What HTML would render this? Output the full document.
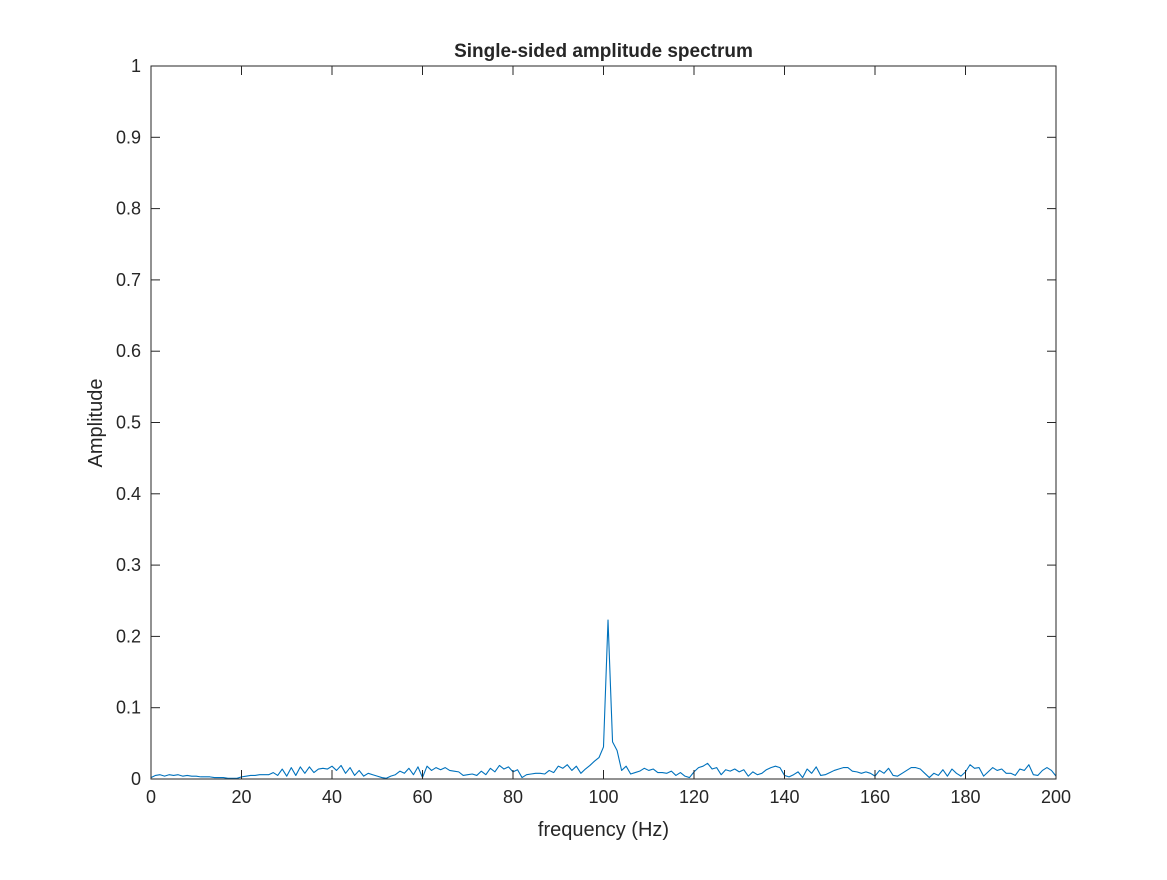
<!DOCTYPE html>
<html><head><meta charset="utf-8"><style>
body{margin:0;background:#fff;}
svg text{font-family:"Liberation Sans",Arial,sans-serif;fill:#262626;}
</style></head><body>
<svg id="chart" width="1167" height="875" viewBox="0 0 1167 875" xmlns="http://www.w3.org/2000/svg">
<rect x="0" y="0" width="1167" height="875" fill="#fff"/>
<g id="axes"></g>
</svg>
<script>
const yValues = [
0.002,0.005,0.006,0.004,0.006,0.005,0.006,0.004,0.005,0.004,
0.004,0.003,0.003,0.003,0.002,0.002,0.002,0.001,0.001,0.001,
0.003,0.004,0.005,0.005,0.006,0.006,0.006,0.009,0.005,0.014,
0.004,0.016,0.005,0.017,0.008,0.017,0.009,0.014,0.015,0.014,
0.018,0.012,0.019,0.008,0.016,0.005,0.012,0.004,0.008,0.006,
0.004,0.002,0.001,0.004,0.006,0.011,0.008,0.015,0.006,0.017,
0.002,0.018,0.012,0.016,0.013,0.016,0.012,0.011,0.010,0.005,
0.006,0.007,0.005,0.011,0.006,0.015,0.010,0.019,0.014,0.017,
0.010,0.013,0.002,0.006,0.007,0.008,0.008,0.007,0.012,0.009,
0.018,0.015,0.020,0.012,0.018,0.008,0.014,0.019,0.025,0.030,
0.045,0.223,0.052,0.040,0.012,0.018,0.007,0.009,0.011,0.015,
0.012,0.014,0.009,0.009,0.008,0.011,0.005,0.009,0.004,0.002,
0.010,0.016,0.018,0.022,0.014,0.016,0.006,0.013,0.011,0.014,
0.010,0.013,0.004,0.010,0.006,0.008,0.013,0.016,0.018,0.016,
0.005,0.003,0.006,0.010,0.002,0.014,0.008,0.017,0.005,0.006,
0.009,0.012,0.014,0.016,0.016,0.011,0.010,0.008,0.010,0.008,
0.004,0.012,0.008,0.015,0.005,0.004,0.008,0.012,0.016,0.016,
0.014,0.008,0.002,0.008,0.005,0.013,0.004,0.014,0.008,0.004,
0.010,0.020,0.015,0.016,0.004,0.010,0.016,0.012,0.014,0.008,
0.008,0.005,0.014,0.012,0.020,0.006,0.005,0.012,0.016,0.012,
0.004];
const xTicks = [0,20,40,60,80,100,120,140,160,180,200];
const yTicks = [0,0.1,0.2,0.3,0.4,0.5,0.6,0.7,0.8,0.9,1];
const yTickLabels = ["0","0.1","0.2","0.3","0.4","0.5","0.6","0.7","0.8","0.9","1"];

const L=151,R=1056,T=66,B=779;
const xs=v=>L+(v-0)/(200-0)*(R-L);
const ys=v=>B-(v-0)/(1-0)*(B-T);
const NS="http://www.w3.org/2000/svg";
const g=document.getElementById('axes');
function mk(tag,attrs){const e=document.createElementNS(NS,tag);for(const k in attrs)e.setAttribute(k,attrs[k]);g.appendChild(e);return e;}

// line
let d="";
yValues.forEach((v,i)=>{d+=(i?"L":"M")+xs(i).toFixed(2)+","+ys(v).toFixed(2);});
const line=mk('path',{d:d,fill:'none',stroke:'#0072bd','stroke-width':1.1,'stroke-linejoin':'round'});



// box
const box=mk('rect',{x:L,y:T,width:R-L,height:B-T,fill:'none',stroke:'#262626','stroke-width':1});



xTicks.forEach(t=>{
  const x=xs(t);
  mk('line',{x1:x,y1:B,x2:x,y2:B-9,stroke:'#262626','stroke-width':1});
  mk('line',{x1:x,y1:T,x2:x,y2:T+9,stroke:'#262626','stroke-width':1});
  const tx=mk('text',{x:x,y:B+24,'text-anchor':'middle','font-size':18});
  tx.textContent=t;
  
  
});
yTicks.forEach((t,i)=>{
  const y=ys(t);
  mk('line',{x1:L,y1:y,x2:L+9,y2:y,stroke:'#262626','stroke-width':1});
  mk('line',{x1:R,y1:y,x2:R-9,y2:y,stroke:'#262626','stroke-width':1});
  const tx=mk('text',{x:L-10,y:y+6,'text-anchor':'end','font-size':18});
  tx.textContent=yTickLabels[i];
  
  
});

const title=mk('text',{x:(L+R)/2,y:57,'text-anchor':'middle','font-size':19,'font-weight':'bold',fill:'#000'});
title.textContent="Single-sided amplitude spectrum";



const xl=mk('text',{x:(L+R)/2,y:836,'text-anchor':'middle','font-size':20});
xl.textContent="frequency (Hz)";



const yl=mk('text',{x:0,y:0,'text-anchor':'middle','font-size':20,transform:'translate(102,423) rotate(-90)'});
yl.textContent="Amplitude";


</script>
</body></html>
